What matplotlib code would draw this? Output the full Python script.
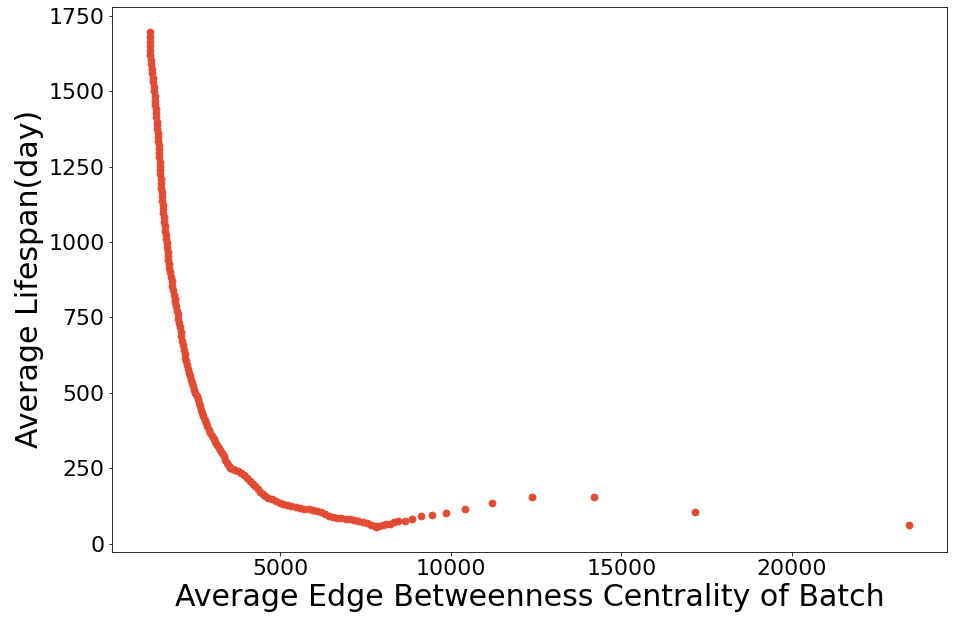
import matplotlib
matplotlib.use("Agg")
import matplotlib.pyplot as plt

# Dense part of the curve (x = avg edge betweenness centrality, y = avg lifespan in days)
dense_x = [1168, 1168, 1170, 1172, 1180, 1190, 1200, 1212, 1226, 1240, 1255, 1272, 1288, 1300,
           1310, 1322, 1334, 1343, 1355, 1366, 1376, 1385, 1392, 1403, 1414, 1425, 1433, 1439,
           1447, 1455, 1461, 1468, 1476, 1484, 1492, 1501, 1510, 1518, 1527, 1537, 1548, 1560,
           1572, 1583, 1592, 1605, 1620, 1635, 1650, 1665, 1680, 1694, 1704, 1713, 1730, 1748,
           1766, 1786, 1808, 1830, 1852, 1876, 1900, 1922, 1947, 1965, 1985, 2004, 2023, 2046,
           2072, 2098, 2124, 2146, 2169, 2193, 2218, 2242, 2266, 2290, 2315, 2345, 2378, 2410,
           2444, 2477, 2510, 2545, 2580, 2614, 2648, 2678, 2706, 2742, 2780, 2818, 2858, 2899,
           2944, 2994, 3044, 3094, 3144, 3192, 3240, 3290, 3340, 3390, 3436, 3485, 3532, 3600,
           3680, 3760, 3850, 3940, 4030, 4110, 4190, 4270, 4340, 4408, 4480, 4560, 4640, 4740,
           4860, 4980, 5088, 5200, 5320, 5450, 5575, 5700, 5830, 5950, 6063, 6180, 6300, 6420,
           6547, 6670, 6790, 6910, 7035, 7150, 7270, 7423, 7530, 7650, 7760, 7814, 7900, 8000,
           8100, 8202, 8330, 8445]
dense_y = [1698, 1680, 1665, 1650, 1635, 1620, 1605, 1590, 1575, 1560, 1545, 1530, 1515, 1500,
           1485, 1470, 1455, 1442, 1428, 1414, 1400, 1388, 1376, 1362, 1348, 1335, 1322, 1309,
           1295, 1281, 1267, 1253, 1240, 1225, 1210, 1195, 1180, 1166, 1152, 1138, 1124, 1110,
           1096, 1082, 1068, 1052, 1038, 1024, 1010, 996, 982, 968, 955, 942, 928, 914,
           900, 886, 870, 854, 840, 826, 812, 800, 787, 773, 760, 746, 733, 718,
           703, 688, 673, 658, 643, 630, 617, 604, 591, 578, 566, 555, 544, 533,
           522, 511, 500, 489, 478, 467, 456, 444, 433, 422, 411, 400, 389, 377,
           367, 357, 347, 337, 327, 318, 310, 300, 289, 278, 267, 258, 250, 247,
           244, 240, 233, 226, 218, 208, 199, 190, 181, 172, 165, 158, 152, 147,
           141, 136, 131, 127, 123, 120, 117, 116, 115, 112, 108, 103, 97, 92,
           88, 86, 84, 82, 80, 77, 74, 72, 68, 62, 57, 55, 58, 61,
           64, 66, 70, 75]

# Sparse tail points
tail_x = [8655, 8868, 9134, 9452, 9858, 10409, 11209, 12377, 14207, 17164, 23431]
tail_y = [75, 83, 93, 94, 100, 116, 133, 156, 153, 103, 63]

xs = dense_x + tail_x
ys = dense_y + tail_y

fig = plt.figure(figsize=(954 / 72, 622 / 72), dpi=72)
ax = fig.add_axes([0.1171, 0.1130, 0.8756, 0.8757])
ax.scatter(xs, ys, color="#E24A33", s=46, zorder=3)

ax.set_xlabel("Average Edge Betweenness Centrality of Batch", fontsize=30)
ax.set_ylabel("Average Lifespan(day)", fontsize=30)
ax.tick_params(axis="both", labelsize=22)
ax.set_xticks([5000, 10000, 15000, 20000])
ax.set_yticks([0, 250, 500, 750, 1000, 1250, 1500, 1750])

fig.savefig("out.png", dpi=72, facecolor="white")
